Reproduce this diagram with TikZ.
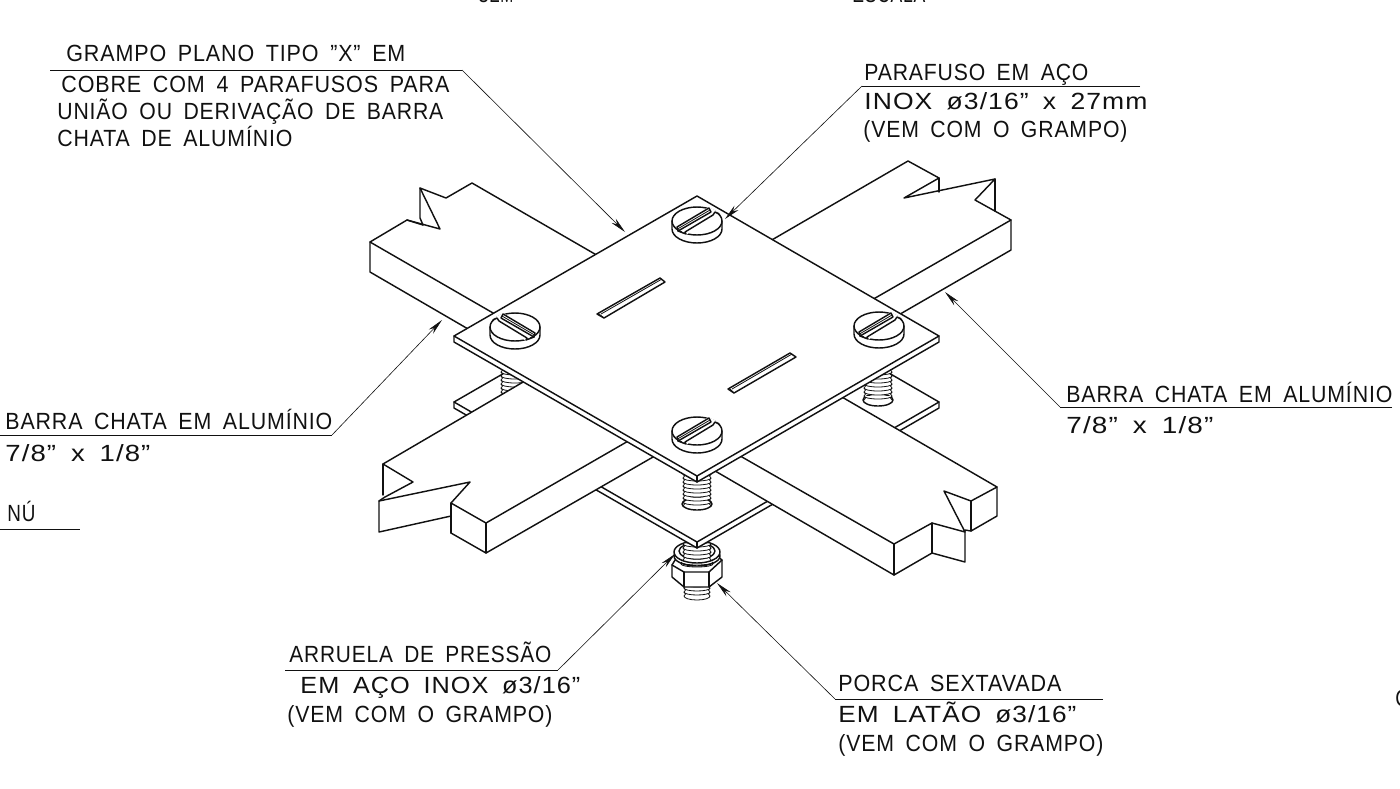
\documentclass[tikz,border=0pt]{standalone}
\usepackage{fontspec}
\usepackage{graphicx}
\setmainfont{Liberation Sans}[LetterSpace=4,WordSpace=1.7]
\usetikzlibrary{arrows.meta}
\definecolor{ink}{HTML}{111111}
\tikzset{
 lab/.style={inner sep=0pt,anchor=base west,text=ink,font=\fontsize{11.7pt}{12pt}\selectfont},
 edge/.style={draw=ink,line width=.72pt,line join=round,line cap=round},
 solid/.style={edge,fill=white},
 thin/.style={draw=ink,line width=.4pt},
 lead/.style={draw=ink,line width=.3pt},
 leadarrow/.style={lead,-{Stealth[length=8pt,width=3pt]}},
 shelf/.style={draw=ink,line width=.45pt},
}
\newcommand{\lbl}[5]{\node[lab] (#1) at (#2,#3) {\setbox0=\hbox{#5}\pgfmathsetmacro\sx{#4*0.5/\the\wd0}\scalebox{\sx}[1]{\box0}};}
\newcommand{\thr}[5]{% cx, ytop, ybot, rx, second y
 \foreach \yy in {#2,#5,...,#3}{
  \draw[thin,fill=white] (#1-#4,\yy) arc[start angle=180,end angle=0,x radius=#4,y radius=3];
  \draw[thin] (#1-#4,\yy) -- (#1-#4+1.5,\yy+2) -- (#1-#4,\yy+4);
  \draw[thin] (#1+#4,\yy) -- (#1+#4-1.5,\yy+2) -- (#1+#4,\yy+4);}
}
\newcommand{\shead}[3]{%
 \begin{scope}[shift={(#1,#2)},xscale=#3]
  \draw[solid] (-25,0) -- (-25,8) arc[start angle=180,end angle=0,x radius=25,y radius=14] -- (25,0);
  \draw[solid] (0,0) ellipse[x radius=25,y radius=14];
  \fill[white] (-21,5) -- (12,-14) -- (21,-9) -- (-11,14) -- cycle;
  \draw[edge] (-20,6) -- (12,-13) -- (14,-9) -- (-19,10) -- cycle;
  \draw[thin] (-19.5,8) -- (13,-11);
  \draw[edge] (-19,10) -- (-11,13) -- (-12,11) -- (16,-6) -- (18,-9) -- (22,-7);
 \end{scope}}
\begin{document}
\begin{tikzpicture}[x=.5pt,y=-.5pt]
\useasboundingbox (0,0) rectangle (1400,788);
\fill[white] (0,0) rectangle (1400,788);
% upper bars
\draw[solid] (600,257) -- (472,183) -- (446,198) -- (420,188) -- (440,229) -- (407,220) -- (370,242) -- (370,272) -- (475,333) -- (500,318) -- cycle;
\draw[edge] (370,242) -- (500,317);
\draw[edge] (420,188) -- (420,218) -- (423,225);
\draw[edge] (407,220) -- (423,225);
\draw[solid] (770,241) -- (908,161) -- (939,178) -- (904,198) -- (995,179) -- (975,200) -- (1011,220) -- (1011,250) -- (895,317) -- (870,301) -- cycle;
\draw[edge] (1011,220) -- (870,301);
\draw[edge] (939,178) -- (939,192);
\draw[edge] (995,179) -- (995,211);
% nut and bolt end
\thr{697}{584}{594}{13}{588}
\draw[thin,fill=white] (684,596) arc[start angle=180,end angle=0,x radius=13,y radius=4];
\draw[solid] (672,565) -- (680,552) -- (712,552) -- (722,560) -- (722,577) -- (709,587) -- (684,587) -- (672,577) -- cycle;
\draw[edge] (672,565) -- (684,572) -- (709,572) -- (722,560);
\draw[edge] (684,572) -- (684,587);
\draw[edge] (709,572) -- (709,587);
% washer
\draw[solid] (697,556) ellipse[x radius=23,y radius=10];
\draw[solid] (697,552) ellipse[x radius=23,y radius=11];
\draw[solid] (697,551) ellipse[x radius=18,y radius=8];
\thr{697}{544}{556}{14}{548}
\draw[thin] (681,562) arc[start angle=180,end angle=0,x radius=16,y radius=3];
\draw[thin] (681,564) arc[start angle=180,end angle=0,x radius=16,y radius=3];
% lower plate
\draw[solid] (697,262) -- (939,402) -- (939,408) -- (697,548) -- (454,408) -- (454,402) -- cycle;
\draw[edge] (454,402) -- (697,542) -- (939,402);
\draw[edge] (697,542) -- (697,548);
% bolts between plates
\thr{515}{368}{400}{14}{372}
\draw[edge,fill=white] (878,400) ellipse[x radius=15,y radius=6];
\thr{878}{368}{399}{14}{372}
\draw[edge,fill=white] (697,504) ellipse[x radius=15,y radius=6];
\thr{697}{474}{503}{14}{478}
% lower left bar
\draw[solid] (530,378) -- (383,464) -- (413,482) -- (385,497) -- (379,501) -- (379,532) -- (451,516) -- (451,533) -- (486,553) -- (660,453) -- (630,440) -- cycle;
\draw[edge] (379,501) -- (470,482) -- (451,503) -- (486,523) -- (630,440);
\draw[edge] (383,464) -- (383,495);
\draw[edge] (451,503) -- (451,533);
\draw[edge] (486,523) -- (486,553);
% lower right bar
\draw[solid] (835,393) -- (997,487) -- (997,516) -- (971,531) -- (965,530) -- (965,562) -- (932,553) -- (894,575) -- (710,468) -- (735,453) -- cycle;
\draw[edge] (735,453) -- (894,544) -- (932,523) -- (965,532) -- (944,491) -- (971,501) -- (997,487);
\draw[edge] (971,501) -- (971,531);
\draw[edge] (894,544) -- (894,575);
\draw[edge] (932,523) -- (932,553);
% top plate
\draw[solid] (697,196) -- (939,336) -- (939,342) -- (697,482) -- (454,342) -- (454,336) -- cycle;
\draw[edge] (454,336) -- (697,476) -- (939,336);
\draw[edge] (697,476) -- (697,482);
% plate slots
\draw[edge] (597,314) -- (660,278) -- (665,282) -- (604,318) -- cycle;
\draw[thin] (601,314) -- (662,279);
\draw[thin] (599,314) -- (604,318);
\draw[edge] (728,389) -- (790,353) -- (796,357) -- (734,393) -- cycle;
\draw[thin] (732,389) -- (792,354);
\draw[thin] (730,389) -- (734,393);
% screw heads
\shead{697}{221}{1}
\shead{515}{327}{-1}
\shead{879}{326}{1}
\shead{697}{431}{1}
% leaders
\coordinate (a1) at (50,70); \coordinate (b1) at (462,70); \coordinate (t1) at (625,232);
\draw[shelf] (a1) -- (b1); \draw[leadarrow] (b1) -- (t1);
\coordinate (a2) at (1140,86); \coordinate (b2) at (862,86); \coordinate (t2) at (725,219);
\draw[shelf] (a2) -- (b2); \draw[leadarrow] (b2) -- (t2);
\coordinate (a3) at (1392,407); \coordinate (b3) at (1060,407); \coordinate (t3) at (945,292);
\draw[shelf] (a3) -- (b3); \draw[leadarrow] (b3) -- (t3);
\coordinate (a4) at (0,435); \coordinate (b4) at (332,435); \coordinate (t4) at (442,320);
\draw[shelf] (a4) -- (b4); \draw[leadarrow] (b4) -- (t4);
\coordinate (a6) at (285,670); \coordinate (b6) at (558,670); \coordinate (t6) at (675,554);
\draw[shelf] (a6) -- (b6); \draw[leadarrow] (b6) -- (t6);
\coordinate (a7) at (1103,699); \coordinate (b7) at (835,699); \coordinate (t7) at (717,583);
\draw[shelf] (a7) -- (b7); \draw[leadarrow] (b7) -- (t7);
\coordinate (a5) at (0,529); \coordinate (b5) at (80,529);
\draw[shelf] (a5) -- (b5);
% texts
\lbl{top1}{478}{2}{35}{SEM}
\lbl{top2}{852}{2}{73}{ESCALA}
\lbl{g1}{66}{61}{339}{GRAMPO PLANO TIPO ”X” EM}
\lbl{g2}{61}{92}{388}{COBRE COM 4 PARAFUSOS PARA}
\lbl{g3}{57}{119}{386}{UNIÃO OU DERIVAÇÃO DE BARRA}
\lbl{g4}{57}{146}{235}{CHATA DE ALUMÍNIO}
\lbl{p1}{864}{80}{224}{PARAFUSO EM AÇO}
\lbl{p2}{864}{109}{283}{INOX ø3/16” x 27mm}
\lbl{p3}{863}{137}{264}{(VEM COM O GRAMPO)}
\lbl{r1}{1066}{402}{326}{BARRA CHATA EM ALUMÍNIO}
\lbl{r2}{1066}{433}{147}{7/8” x 1/8”}
\lbl{l1}{5}{429}{327}{BARRA CHATA EM ALUMÍNIO}
\lbl{l2}{5}{461}{145}{7/8” x 1/8”}
\lbl{n1}{7}{521}{28}{NÚ}
\lbl{w1}{289}{662}{262}{ARRUELA DE PRESSÃO}
\lbl{w2}{300}{693}{280}{EM AÇO INOX ø3/16”}
\lbl{w3}{287}{722}{265}{(VEM COM O GRAMPO)}
\lbl{c1}{838}{691}{223}{PORCA SEXTAVADA}
\lbl{c2}{838}{722}{238}{EM LATÃO ø3/16”}
\lbl{c3}{838}{751}{265}{(VEM COM O GRAMPO)}
\lbl{edgec}{1395}{706}{14}{C}
\end{tikzpicture}
\end{document}
